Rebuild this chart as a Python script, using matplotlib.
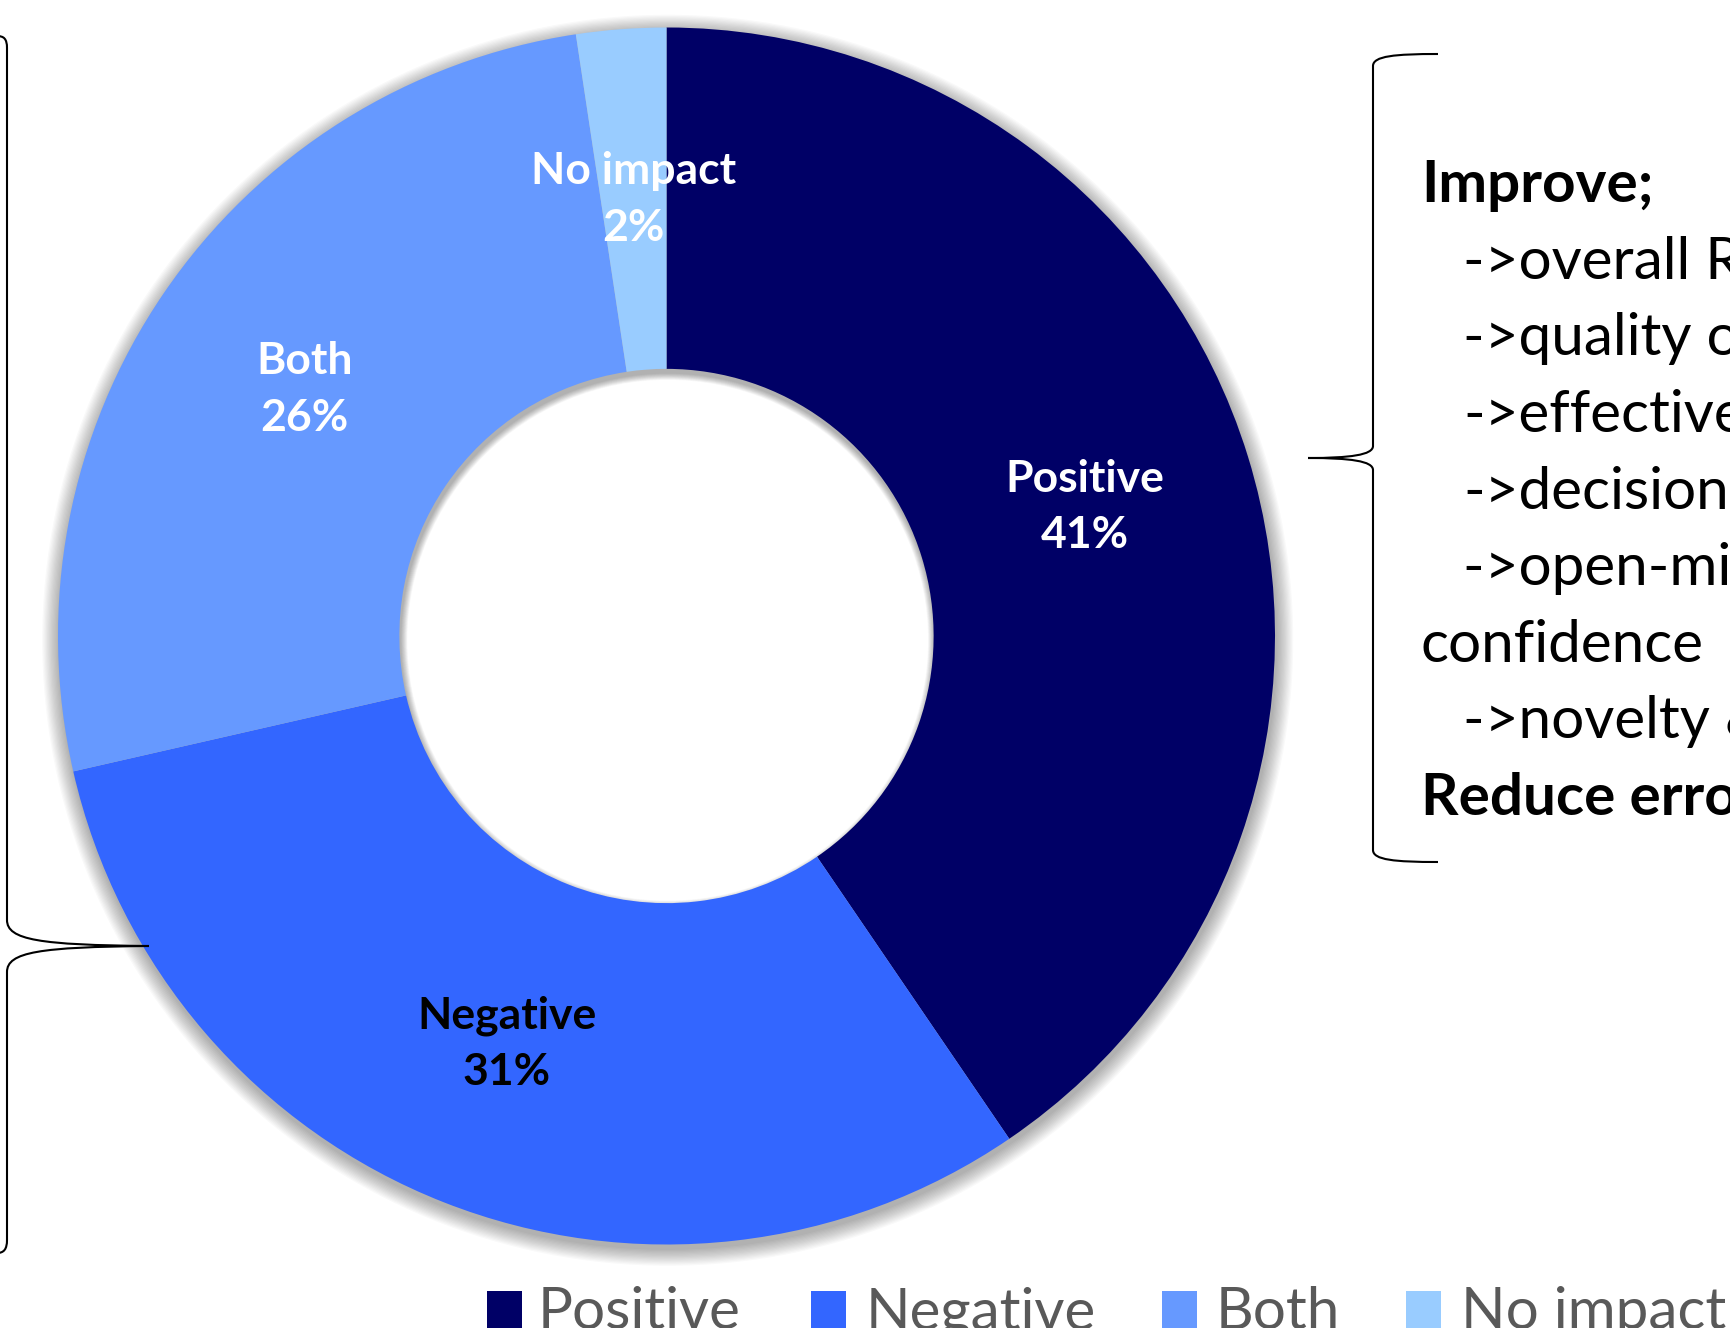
import matplotlib
matplotlib.use("Agg")
import matplotlib.pyplot as plt
import numpy as np
from matplotlib.patches import Wedge, Rectangle, PathPatch
from matplotlib.path import Path

# --- data -----------------------------------------------------------------
categories = ["Positive", "Negative", "Both", "No impact"]
counts = [17, 13, 11, 1]
pct_labels = ["41%", "31%", "26%", "2%"]
colors = ["#000066", "#3366FF", "#6699FF", "#99CCFF"]
label_colors = ["white", "black", "white", "white"]

note_lines = [
    "Improve;",
    "->overall RS performance",
    "->quality of work",
    "->effectiveness",
    "->decision-making",
    "->open-mindedness &",
    "confidence",
    "->novelty & diversity",
    "Reduce errors",
]
note_bold = [True, False, False, False, False, False, False, False, True]

FONT = "Lato"
W, H = 1731, 1328

fig = plt.figure(figsize=(W / 100, H / 100), dpi=100)

# donut geometry in pixels
cx, cy, R = 666.5, 636.0, 608.5
hole = 0.439
lim = 1.06
side = 2 * R * lim
ax = fig.add_axes([(cx - side / 2) / W, (H - cy - side / 2) / H, side / W, side / H])

# soft drop shadow behind the ring (spreads mostly outward, a little into the hole)
for i in range(14):
    d = 0.002 * (i + 1)
    ax.add_patch(Wedge((0.002, -0.007), 1 + d, 0, 360, width=(1 - hole) + 1.4 * d,
                       facecolor="black", edgecolor="none", alpha=0.022, zorder=0))

wedges, _ = ax.pie(counts, colors=colors, startangle=90, counterclock=False,
                   radius=1, wedgeprops=dict(width=1 - hole, linewidth=0))
for w in wedges:
    w.set_zorder(2)

r_lab = 1 - (1 - hole) / 2
for w, name, pct, tc in zip(wedges, categories, pct_labels, label_colors):
    th = np.deg2rad((w.theta1 + w.theta2) / 2)
    ax.text(r_lab * np.cos(th), r_lab * np.sin(th), f"{name}\n{pct}",
            ha="center", va="center", fontsize=32, fontweight="bold",
            color=tc, family=FONT, linespacing=1.5, zorder=3)

ax.set_xlim(-lim, lim)
ax.set_ylim(-lim, lim)
ax.set_aspect("equal")
ax.axis("off")

# overlay in pixel coordinates for braces, notes and legend
ov = fig.add_axes([0, 0, 1, 1], zorder=5)
ov.set_xlim(0, W)
ov.set_ylim(H, 0)
ov.axis("off")
ov.patch.set_alpha(0)


def draw_path(verts, codes):
    ov.add_patch(PathPatch(Path(verts, codes), facecolor="none",
                           edgecolor="black", linewidth=1.5, clip_on=False))


C = Path.CURVE4
# left brace "}" pointing at the donut
draw_path(
    [(-3, 36), (4, 36), (7, 39), (7, 48),
     (7, 920),
     (7, 940), (40, 945), (149, 946),
     (40, 947), (7, 952), (7, 972),
     (7, 1240),
     (7, 1249), (4, 1253), (-3, 1253)],
    [Path.MOVETO, C, C, C, Path.LINETO, C, C, C, C, C, C, Path.LINETO, C, C, C],
)
# right brace "{" in front of the notes
draw_path(
    [(1438, 54), (1395, 54), (1373, 56), (1373, 66),
     (1373, 446),
     (1373, 455), (1350, 458), (1308, 458),
     (1350, 458), (1373, 461), (1373, 470),
     (1373, 850),
     (1373, 860), (1395, 862), (1438, 862)],
    [Path.MOVETO, C, C, C, Path.LINETO, C, C, C, C, C, C, Path.LINETO, C, C, C],
)

# notes on the right, partly cut by the figure edge (as in the source slide)
for i, (line, bold) in enumerate(zip(note_lines, note_bold)):
    x = 1463 if line.startswith("->") else 1421
    ov.text(x, 202 + 76.6 * i, line, ha="left", va="baseline",
            fontsize=42, fontweight="bold" if bold else "normal",
            color="black", family=FONT)

# legend along the bottom edge
sq_x = [487, 811, 1162, 1406]
tx_x = [538, 866, 1216, 1461]
for name, col, sx, tx in zip(categories, colors, sq_x, tx_x):
    ov.add_patch(Rectangle((sx, 1291), 35, 50, facecolor=col, edgecolor="none",
                           clip_on=False))
    ov.text(tx, 1329, name, ha="left", va="baseline", fontsize=42,
            color="#595959", family=FONT)

fig.savefig("out.png", dpi=100)
